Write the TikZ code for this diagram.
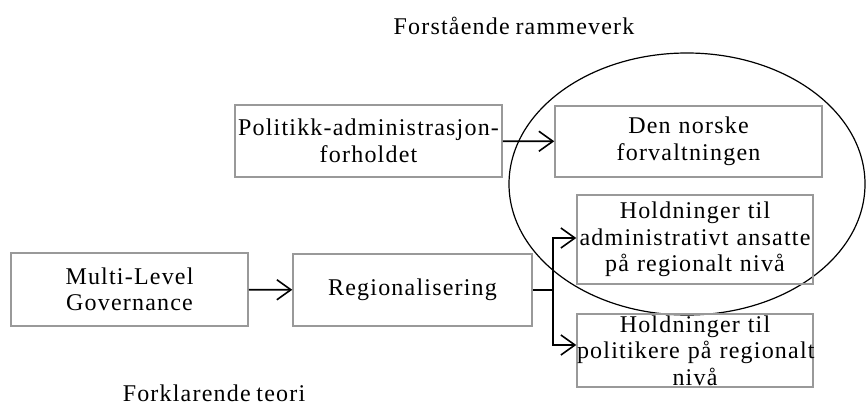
\documentclass[tikz,border=0pt]{standalone}
\usepackage{fontspec}
\setmainfont{Liberation Serif}[LetterSpace=5,WordSpace=0.8]
\usetikzlibrary{arrows.meta}
\definecolor{boxgray}{gray}{0.6}
\tikzset{
  boks/.style={draw=boxgray, line width=1.5pt, inner sep=0pt, align=center},
  pil/.style={-{Straight Barb[length=14pt,width=20pt,line width=1.6pt]}, line width=1.6pt},
  tekst/.style={inner sep=0pt}
}
\begin{document}
\begin{tikzpicture}[x=1pt,y=-1pt,font=\fontsize{24}{26.5}\selectfont]
\useasboundingbox (0,0) rectangle (866,406);
\node[tekst] (ramme) at (514,26) {Forstående rammeverk};
\node[tekst] (teori) at (214,393) {Forklarende teori};
\draw[line width=1.2pt] (687,184) ellipse [x radius=178, y radius=131];
\node[boks, minimum width=267pt, minimum height=72pt, text width=267pt] (pol) at (368.5,141) {Politikk-administrasjon-\\forholdet};
\node[boks, minimum width=267pt, minimum height=71pt, text width=267pt] (den) at (688.5,141.5) {Den norske\\forvaltningen};
\node[boks, minimum width=237pt, minimum height=73pt, text width=237pt] (mlg) at (129.5,289.5) {Multi-Level\\Governance};
\node[boks, minimum width=239pt, minimum height=72pt, text width=239pt] (reg) at (412.5,290) {Regionalisering};
\node[boks, minimum width=236pt, minimum height=89pt, text width=236pt] (hold1) at (695,239.5) {Holdninger til\\administrativt ansatte\\på regionalt nivå};
\node[boks, minimum width=236pt, minimum height=73pt] (hold2) at (695,350.5) {};
\node[tekst, text width=236pt, align=center] (hold2txt) at (hold2) {Holdninger til\\politikere på regionalt\\nivå};
\coordinate (gren) at (553,290);
\draw[pil] (pol) -- (den);
\draw[pil] (mlg) -- (reg);
\draw[line width=2pt] (reg.east) -- (gren);
\draw[pil] (gren) |- ([yshift=1.5pt]hold1.west);
\draw[pil] (gren) |- ([yshift=5.5pt]hold2.west);
\end{tikzpicture}
\end{document}
